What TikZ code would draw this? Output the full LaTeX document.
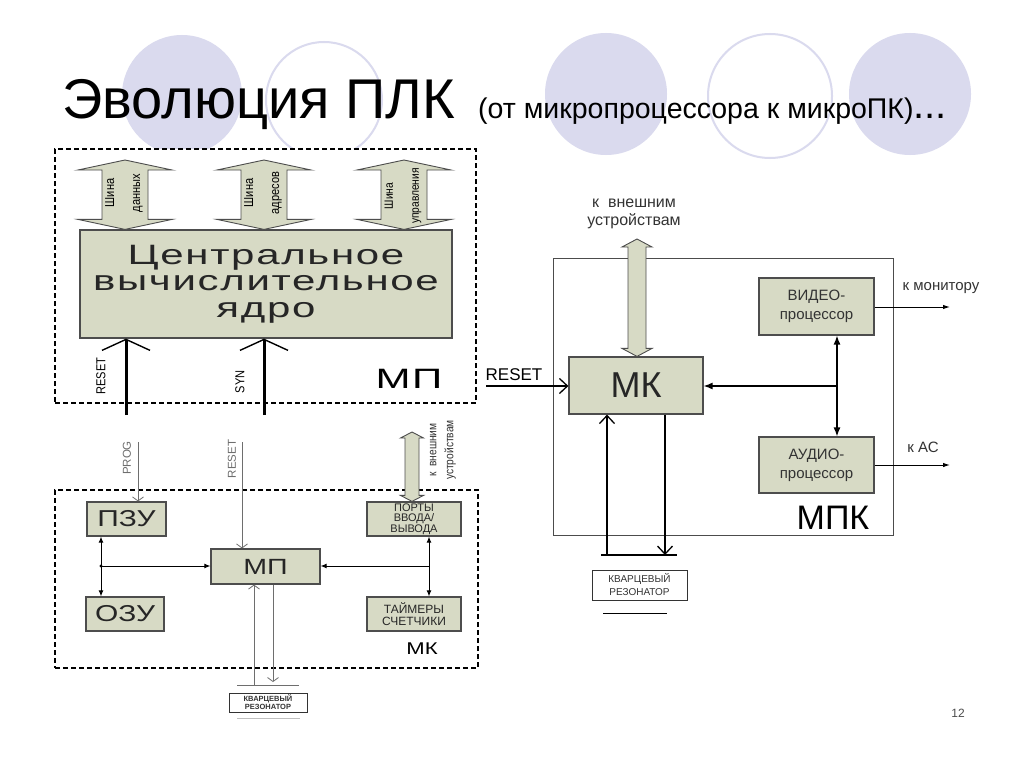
\documentclass[tikz,border=0pt]{standalone}
\usepackage{fontspec}
\setmainfont{Liberation Sans}
\newfontfamily\corefont[FakeStretch=1.5,LetterSpace=6]{Liberation Sans}
\newfontfamily\boxfont[FakeStretch=1.3]{Liberation Sans}
\newfontfamily\narrowfont[FakeStretch=0.85]{Liberation Sans}
\usepackage{xcolor}
\usetikzlibrary{arrows.meta,calc}
\definecolor{boxfill}{HTML}{D7DAC5}
\definecolor{boxline}{HTML}{4D4D4D}
\definecolor{circfill}{HTML}{DADAEE}
\definecolor{labelink}{HTML}{333333}
\definecolor{thingray}{HTML}{6E6E6E}
\newcommand{\fsz}[1]{\fontsize{#1}{#1}\selectfont}
\tikzset{
  blk/.style={draw=boxline,fill=boxfill,line width=1.2pt,inner sep=0pt,align=center,text=black!85},
  dashframe/.style={draw=black,fill=white,dash pattern=on 5pt off 3pt,line width=1.8pt,inner sep=0pt},
  plainframe/.style={draw=black!70,line width=0.8pt,inner sep=0pt},
  xtalbox/.style={draw=black!80,fill=white,line width=0.8pt,inner sep=0pt,align=center,text=labelink},
  busbody/.style={draw=boxline,fill=boxfill,line width=0.9pt},
  buslbl/.style={rotate=90,align=center,inner sep=0pt,font=\narrowfont\fontsize{13}{26}\selectfont},
  sidelbl/.style={rotate=90,inner sep=0pt,font=\narrowfont\fsz{13}},
  graylbl/.style={rotate=90,inner sep=0pt,text=thingray,font=\fsz{11.5}},
  thickarr/.style={-{Straight Barb[length=11pt,width=48pt,line width=1.4pt]},line width=3pt},
  thinarr/.style={-{Straight Barb[length=4pt,width=11pt]},line width=0.8pt,color=thingray},
  busarr/.style={{Latex[length=6pt,width=5pt]}-{Latex[length=6pt,width=5pt]},line width=1pt},
  smallarr/.style={-{Latex[length=6pt,width=5pt]},line width=1pt},
  barbarr/.style={-{Straight Barb[length=8pt,width=15pt]},line width=1.3pt},
  dblarr/.style={{Latex[length=9pt,width=7pt]}-{Latex[length=9pt,width=7pt]},line width=1.3pt},
  outarr/.style={-{Latex[length=9pt,width=7pt]},line width=1.3pt},
  monarr/.style={-{Latex[length=7pt,width=4.5pt]},line width=1pt}
}
% wide two-headed bus arrow between two points on one vertical
\newcommand{\blockarrow}[5]{%
  \draw[busbody] let \p1=#1, \p2=#2 in
    (\x1,\y1) -- (\x1+#3,\y1-#5) -- (\x1+#4,\y1-#5) -- (\x1+#4,\y2+#5)
    -- (\x1+#3,\y2+#5) -- (\x1,\y2) -- (\x1-#3,\y2+#5) -- (\x1-#4,\y2+#5)
    -- (\x1-#4,\y1-#5) -- (\x1-#3,\y1-#5) -- cycle;}

\begin{document}
\begin{tikzpicture}[x=1pt,y=-1pt]
  \useasboundingbox[fill=white] (0,0) rectangle (1024,768);

  % background circles
  \foreach \cx/\cy/\r in {182/95/60,606/94/61,910/94/61}
    \fill[circfill] (\cx,\cy) circle (\r pt);
  \foreach \cx/\cy/\r in {324/100/58,770/96/62}
    \draw[circfill,line width=2pt] (\cx,\cy) circle (\r pt);

  % title
  \node[anchor=base west,inner sep=0pt,font=\fsz{56}] (title) at (62,118) {Эволюция ПЛК};
  \node[anchor=base west,inner sep=0pt,font=\fsz{28.5}] (subtitle) at (478,118)
    {(от микропроцессора к микроПК){\fsz{40}...}};

  % microprocessor (top)
  \node[dashframe,minimum width=421pt,minimum height=254pt] (mpframe) at (265.5,276) {};
  \node[blk,minimum width=372pt,minimum height=108pt,
        font=\corefont\fontsize{28}{26.5}\selectfont] (core) at (266,284)
    {Центральное\\вычислительное\\ядро};
  \coordinate (bus1) at (125,160);
  \coordinate (bus2) at (264,160);
  \coordinate (bus3) at (404,160);
  \blockarrow{(bus1)}{(bus1 |- core.north)}{47pt}{23pt}{10pt}
  \blockarrow{(bus2)}{(bus2 |- core.north)}{47pt}{23pt}{10pt}
  \blockarrow{(bus3)}{(bus3 |- core.north)}{47pt}{23pt}{10pt}
  \node[buslbl] (bus1lbl) at (124,193) {Шина\\данных};
  \node[buslbl] (bus2lbl) at (263,193) {Шина\\адресов};
  \node[buslbl,font=\narrowfont\fontsize{12}{26}\selectfont] (bus3lbl) at (403,196) {Шина\\управления};
  \coordinate (rstin) at (126,415);
  \coordinate (synin) at (264,415);
  \draw[thickarr] (rstin) -- (rstin |- core.south);
  \draw[thickarr] (synin) -- (synin |- core.south);
  \node[sidelbl] (rstlbl) at (101,376) {RESET};
  \node[sidelbl] (synlbl) at (240,382) {SYN};
  \node[font=\corefont\fsz{28}] (mplbl) at (409,379) {МП};

  % microcontroller (bottom)
  \node[dashframe,minimum width=423pt,minimum height=178pt] (mkframe) at (266.5,579) {};
  \node[blk,minimum width=79pt,minimum height=34pt,font=\boxfont\fsz{23}] (rom) at (126.5,519) {ПЗУ};
  \node[blk,minimum width=78pt,minimum height=34pt,font=\boxfont\fsz{23}] (ram) at (125,614) {ОЗУ};
  \node[blk,minimum width=109pt,minimum height=35pt,font=\boxfont\fsz{22}] (cpu) at (265.5,566.5) {МП};
  \node[blk,minimum width=94pt,minimum height=34pt,font=\fontsize{11}{10.5}\selectfont] (ports) at (414,519)
    {ПОРТЫ\\ВВОДА/\\ВЫВОДА};
  \node[blk,minimum width=94pt,minimum height=34pt,font=\fontsize{12}{12}\selectfont] (timers) at (414,614)
    {ТАЙМЕРЫ\\СЧЕТЧИКИ};
  \node[font=\boxfont\fsz{17}] (mklbl) at (422,649) {МК};
  \coordinate (lbus) at (101,566);
  \coordinate (rbus) at (429,566);
  \draw[busarr] (rom.south -| lbus) -- (ram.north -| lbus);
  \draw[smallarr] (lbus) -- (cpu.west |- lbus);
  \fill (lbus) circle (1.6pt);
  \draw[busarr] (ports.south -| rbus) -- (timers.north -| rbus);
  \draw[smallarr] (rbus) -- (cpu.east |- rbus);
  \coordinate (progin) at (138,442);
  \coordinate (rst2) at (242,442);
  \draw[thinarr] (progin) -- (progin |- rom.north);
  \draw[thinarr] (rst2) -- (rst2 |- cpu.north);
  \node[graylbl] (proglbl) at (127,458) {PROG};
  \node[graylbl] (rst2lbl) at (232,459) {RESET};
  \coordinate (ext1) at (412,432);
  \blockarrow{(ext1)}{(ext1 |- ports.north)}{11.5pt}{7pt}{6pt}
  \node[rotate=90,align=center,inner sep=0pt,text=labelink,
        font=\narrowfont\fontsize{12}{17}\selectfont] (ext1lbl) at (443,450) {к~~внешним\\устройствам};
  % crystal of the MK
  \coordinate (xq1) at (254,685);
  \coordinate (xq2) at (273,682);
  \draw[thinarr] (xq1) -- (xq1 |- cpu.south);
  \draw[thinarr] (xq2 |- cpu.south) -- (xq2);
  \coordinate (xl1) at (237,685);
  \coordinate (xr1) at (299,685);
  \draw[thingray,line width=1pt] (xl1) -- (xr1);
  \node[xtalbox,minimum width=78pt,minimum height=19pt,font=\bfseries\fontsize{7.5}{8}\selectfont]
    (xtal1) at (268,702.5) {КВАРЦЕВЫЙ\\РЕЗОНАТОР};
  \coordinate (xb1) at (237,718);
  \coordinate (xb2) at (300,718);
  \draw[black!25,line width=1pt] (xb1) -- (xb2);

  % microcomputer (right)
  \node[plainframe,minimum width=340pt,minimum height=277pt] (mpkframe) at (723,396.5) {};
  \node[blk,minimum width=134pt,minimum height=57pt,font=\fsz{36}] (mk) at (636,385.5) {МК};
  \node[blk,minimum width=115pt,minimum height=57pt,text=labelink,
        font=\fontsize{15}{19}\selectfont] (video) at (816.5,306.5) {ВИДЕО-\\процессор};
  \node[blk,minimum width=115pt,minimum height=56pt,text=labelink,
        font=\fontsize{15}{19}\selectfont] (audio) at (816.5,465) {АУДИО-\\процессор};
  \node[font=\fsz{34}] (mpklbl) at (833,518) {МПК};
  \node[align=center,text=labelink,font=\fontsize{16}{18}\selectfont] (ext2lbl) at (634,214)
    {к~~внешним\\устройствам};
  \coordinate (ext2) at (637,239);
  \blockarrow{(ext2)}{(ext2 |- mk.north)}{15pt}{9pt}{8pt}
  \coordinate (rst3) at (486,386);
  \draw[barbarr] (rst3) -- (rst3 -| mk.west);
  \node[font=\fsz{17}] (rst3lbl) at (514,375) {RESET};
  \coordinate (jn) at (837,386);
  \draw[outarr] (jn) -- (jn -| mk.east);
  \draw[dblarr] (video.south -| jn) -- (audio.north -| jn);
  \coordinate (mon) at (950,307);
  \coordinate (acout) at (950,465);
  \draw[monarr] (video.east |- mon) -- (mon);
  \draw[monarr] (audio.east |- acout) -- (acout);
  \node[text=labelink,font=\fsz{15}] (monlbl) at (941,288) {к монитору};
  \node[text=labelink,font=\fsz{15}] (aclbl) at (923,447) {к АС};
  % crystal of the MPK
  \coordinate (xq3) at (607,555);
  \coordinate (xq4) at (665,555);
  \draw[barbarr] (xq3) -- (xq3 |- mk.south);
  \draw[barbarr] (xq4 |- mk.south) -- (xq4);
  \coordinate (xl2) at (601,555);
  \coordinate (xr2) at (677,555);
  \draw[line width=1.3pt] (xl2) -- (xr2);
  \node[xtalbox,minimum width=95pt,minimum height=30pt,font=\fontsize{10}{13}\selectfont]
    (xtal2) at (639.5,585) {КВАРЦЕВЫЙ\\РЕЗОНАТОР};
  \coordinate (xb3) at (603,613);
  \coordinate (xb4) at (667,613);
  \draw[line width=1pt] (xb3) -- (xb4);

  \node[text=black!70,font=\fsz{12}] (pgnum) at (958,713) {12};
\end{tikzpicture}
\end{document}
